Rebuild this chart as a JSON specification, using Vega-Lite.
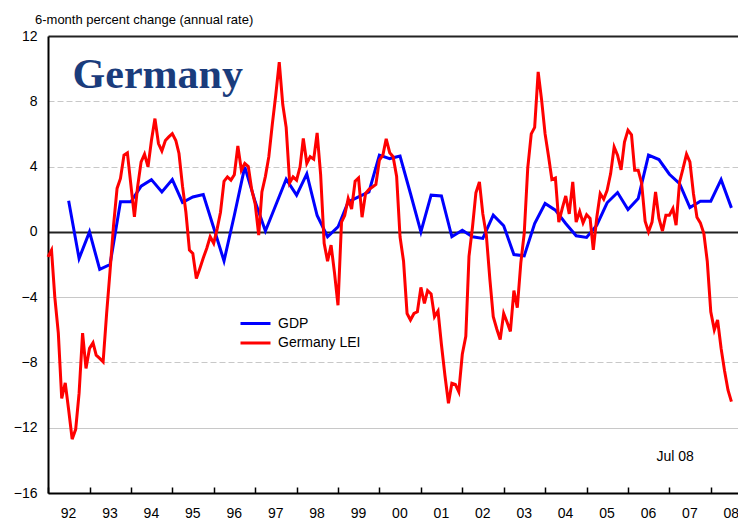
{
  "$schema": "https://vega.github.io/schema/vega-lite/v6.json",
  "width": 690,
  "height": 457,
  "autosize": {"type": "none"},
  "padding": {"left": 48, "top": 36, "right": 0, "bottom": 27},
  "background": "white",
  "config": {"font": "Liberation Sans", "view": {"stroke": null}},
  "title": {
    "text": "6-month percent change (annual rate)",
    "anchor": "start",
    "frame": "group",
    "font": "Liberation Sans",
    "fontSize": 13,
    "fontWeight": "normal",
    "color": "#000000",
    "baseline": "alphabetic",
    "dx": -13,
    "dy": 14,
    "offset": 6
  },
  "datasets": {
    "lei": [
      {"d":"1992-01-01","v":-1.53},{"d":"1992-02-01","v":-1.12},{"d":"1992-03-01","v":-4.0},{"d":"1992-04-01","v":-6.2},{"d":"1992-05-01","v":-10.2},{"d":"1992-06-01","v":-9.25},{"d":"1992-07-01","v":-10.9},{"d":"1992-08-01","v":-12.7},{"d":"1992-09-01","v":-12.1},{"d":"1992-10-01","v":-9.9},{"d":"1992-11-01","v":-6.2},{"d":"1992-12-01","v":-8.37},
      {"d":"1993-01-01","v":-7.14},{"d":"1993-02-01","v":-6.8},{"d":"1993-03-01","v":-7.55},{"d":"1993-04-01","v":-7.75},{"d":"1993-05-01","v":-7.96},{"d":"1993-06-01","v":-5.0},{"d":"1993-07-01","v":-2.4},{"d":"1993-08-01","v":0.4},{"d":"1993-09-01","v":2.66},{"d":"1993-10-01","v":3.27},{"d":"1993-11-01","v":4.7},{"d":"1993-12-01","v":4.84},
      {"d":"1994-01-01","v":2.86},{"d":"1994-02-01","v":0.92},{"d":"1994-03-01","v":2.76},{"d":"1994-04-01","v":4.29},{"d":"1994-05-01","v":4.76},{"d":"1994-06-01","v":3.98},{"d":"1994-07-01","v":5.6},{"d":"1994-08-01","v":6.94},{"d":"1994-09-01","v":5.41},{"d":"1994-10-01","v":4.96},{"d":"1994-11-01","v":5.6},{"d":"1994-12-01","v":5.82},
      {"d":"1995-01-01","v":6.02},{"d":"1995-02-01","v":5.6},{"d":"1995-03-01","v":4.8},{"d":"1995-04-01","v":2.8},{"d":"1995-05-01","v":1.2},{"d":"1995-06-01","v":-1.12},{"d":"1995-07-01","v":-1.33},{"d":"1995-08-01","v":-2.86},{"d":"1995-09-01","v":-2.24},{"d":"1995-10-01","v":-1.6},{"d":"1995-11-01","v":-1.0},{"d":"1995-12-01","v":-0.3},
      {"d":"1996-01-01","v":-0.7},{"d":"1996-02-01","v":0.2},{"d":"1996-03-01","v":1.2},{"d":"1996-04-01","v":3.1},{"d":"1996-05-01","v":3.37},{"d":"1996-06-01","v":3.17},{"d":"1996-07-01","v":3.5},{"d":"1996-08-01","v":5.27},{"d":"1996-09-01","v":3.78},{"d":"1996-10-01","v":4.19},{"d":"1996-11-01","v":4.0},{"d":"1996-12-01","v":2.6},
      {"d":"1997-01-01","v":1.7},{"d":"1997-02-01","v":-0.2},{"d":"1997-03-01","v":2.45},{"d":"1997-04-01","v":3.4},{"d":"1997-05-01","v":4.6},{"d":"1997-06-01","v":6.6},{"d":"1997-07-01","v":8.37},{"d":"1997-08-01","v":10.4},{"d":"1997-09-01","v":7.8},{"d":"1997-10-01","v":6.4},{"d":"1997-11-01","v":3.0},{"d":"1997-12-01","v":3.37},
      {"d":"1998-01-01","v":3.17},{"d":"1998-02-01","v":4.0},{"d":"1998-03-01","v":5.72},{"d":"1998-04-01","v":4.2},{"d":"1998-05-01","v":4.6},{"d":"1998-06-01","v":4.45},{"d":"1998-07-01","v":6.06},{"d":"1998-08-01","v":3.5},{"d":"1998-09-01","v":-0.7},{"d":"1998-10-01","v":-1.8},{"d":"1998-11-01","v":-0.81},{"d":"1998-12-01","v":-2.5},
      {"d":"1999-01-01","v":-4.5},{"d":"1999-02-01","v":0.6},{"d":"1999-03-01","v":1.0},{"d":"1999-04-01","v":2.04},{"d":"1999-05-01","v":1.4},{"d":"1999-06-01","v":3.1},{"d":"1999-07-01","v":3.3},{"d":"1999-08-01","v":0.9},{"d":"1999-09-01","v":2.35},{"d":"1999-10-01","v":2.6},{"d":"1999-11-01","v":2.75},{"d":"1999-12-01","v":2.9},
      {"d":"2000-01-01","v":4.4},{"d":"2000-02-01","v":4.7},{"d":"2000-03-01","v":5.7},{"d":"2000-04-01","v":4.85},{"d":"2000-05-01","v":4.6},{"d":"2000-06-01","v":3.4},{"d":"2000-07-01","v":-0.3},{"d":"2000-08-01","v":-1.8},{"d":"2000-09-01","v":-5.0},{"d":"2000-10-01","v":-5.4},{"d":"2000-11-01","v":-5.0},{"d":"2000-12-01","v":-4.9},
      {"d":"2001-01-01","v":-3.4},{"d":"2001-02-01","v":-4.39},{"d":"2001-03-01","v":-3.6},{"d":"2001-04-01","v":-3.8},{"d":"2001-05-01","v":-5.2},{"d":"2001-06-01","v":-4.85},{"d":"2001-07-01","v":-6.9},{"d":"2001-08-01","v":-8.8},{"d":"2001-09-01","v":-10.5},{"d":"2001-10-01","v":-9.28},{"d":"2001-11-01","v":-9.35},{"d":"2001-12-01","v":-9.8},
      {"d":"2002-01-01","v":-7.5},{"d":"2002-02-01","v":-6.4},{"d":"2002-03-01","v":-1.5},{"d":"2002-04-01","v":0.3},{"d":"2002-05-01","v":2.4},{"d":"2002-06-01","v":3.06},{"d":"2002-07-01","v":1.1},{"d":"2002-08-01","v":-0.2},{"d":"2002-09-01","v":-2.9},{"d":"2002-10-01","v":-5.2},{"d":"2002-11-01","v":-5.95},{"d":"2002-12-01","v":-6.6},
      {"d":"2003-01-01","v":-5.0},{"d":"2003-02-01","v":-5.55},{"d":"2003-03-01","v":-6.1},{"d":"2003-04-01","v":-3.6},{"d":"2003-05-01","v":-4.65},{"d":"2003-06-01","v":-1.9},{"d":"2003-07-01","v":-0.1},{"d":"2003-08-01","v":3.9},{"d":"2003-09-01","v":6.0},{"d":"2003-10-01","v":6.4},{"d":"2003-11-01","v":9.8},{"d":"2003-12-01","v":8.1},
      {"d":"2004-01-01","v":6.0},{"d":"2004-02-01","v":4.6},{"d":"2004-03-01","v":3.2},{"d":"2004-04-01","v":3.3},{"d":"2004-05-01","v":0.6},{"d":"2004-06-01","v":1.45},{"d":"2004-07-01","v":2.2},{"d":"2004-08-01","v":1.1},{"d":"2004-09-01","v":3.06},{"d":"2004-10-01","v":0.6},{"d":"2004-11-01","v":1.25},{"d":"2004-12-01","v":0.55},
      {"d":"2005-01-01","v":1.05},{"d":"2005-02-01","v":0.82},{"d":"2005-03-01","v":-1.1},{"d":"2005-04-01","v":0.9},{"d":"2005-05-01","v":2.35},{"d":"2005-06-01","v":2.0},{"d":"2005-07-01","v":2.55},{"d":"2005-08-01","v":3.57},{"d":"2005-09-01","v":5.2},{"d":"2005-10-01","v":4.7},{"d":"2005-11-01","v":3.8},{"d":"2005-12-01","v":5.5},
      {"d":"2006-01-01","v":6.23},{"d":"2006-02-01","v":5.95},{"d":"2006-03-01","v":3.78},{"d":"2006-04-01","v":3.78},{"d":"2006-05-01","v":3.0},{"d":"2006-06-01","v":0.65},{"d":"2006-07-01","v":0.0},{"d":"2006-08-01","v":0.6},{"d":"2006-09-01","v":2.45},{"d":"2006-10-01","v":0.82},{"d":"2006-11-01","v":0.05},{"d":"2006-12-01","v":1.02},
      {"d":"2007-01-01","v":1.02},{"d":"2007-02-01","v":1.43},{"d":"2007-03-01","v":0.41},{"d":"2007-04-01","v":3.06},{"d":"2007-05-01","v":3.88},{"d":"2007-06-01","v":4.76},{"d":"2007-07-01","v":4.29},{"d":"2007-08-01","v":2.35},{"d":"2007-09-01","v":0.9},{"d":"2007-10-01","v":0.55},{"d":"2007-11-01","v":-0.1},{"d":"2007-12-01","v":-1.8},
      {"d":"2008-01-01","v":-4.9},{"d":"2008-02-01","v":-6.0},{"d":"2008-03-01","v":-5.4},{"d":"2008-04-01","v":-7.14},{"d":"2008-05-01","v":-8.5},{"d":"2008-06-01","v":-9.7},{"d":"2008-07-01","v":-10.4}
    ],
    "gdp": [
      {"d":"1992-07-01","v":1.9},{"d":"1992-10-01","v":-1.63},
      {"d":"1993-01-01","v":0.0},{"d":"1993-04-01","v":-2.3},{"d":"1993-07-01","v":-2.0},{"d":"1993-10-01","v":1.84},
      {"d":"1994-01-01","v":1.84},{"d":"1994-04-01","v":2.8},{"d":"1994-07-01","v":3.2},{"d":"1994-10-01","v":2.45},
      {"d":"1995-01-01","v":3.2},{"d":"1995-04-01","v":1.8},{"d":"1995-07-01","v":2.14},{"d":"1995-10-01","v":2.29},
      {"d":"1996-01-01","v":0.25},{"d":"1996-04-01","v":-1.78},{"d":"1996-07-01","v":1.02},{"d":"1996-10-01","v":3.98},
      {"d":"1997-01-01","v":1.84},{"d":"1997-04-01","v":0.05},{"d":"1997-07-01","v":1.63},{"d":"1997-10-01","v":3.23},
      {"d":"1998-01-01","v":2.25},{"d":"1998-04-01","v":3.55},{"d":"1998-07-01","v":1.0},{"d":"1998-10-01","v":-0.3},
      {"d":"1999-01-01","v":0.3},{"d":"1999-04-01","v":1.84},{"d":"1999-07-01","v":2.14},{"d":"1999-10-01","v":2.45},
      {"d":"2000-01-01","v":4.7},{"d":"2000-04-01","v":4.49},{"d":"2000-07-01","v":4.64},{"d":"2000-10-01","v":2.35},
      {"d":"2001-01-01","v":0.0},{"d":"2001-04-01","v":2.25},{"d":"2001-07-01","v":2.2},{"d":"2001-10-01","v":-0.3},
      {"d":"2002-01-01","v":0.1},{"d":"2002-04-01","v":-0.3},{"d":"2002-07-01","v":-0.4},{"d":"2002-10-01","v":1.02},
      {"d":"2003-01-01","v":0.37},{"d":"2003-04-01","v":-1.39},{"d":"2003-07-01","v":-1.47},{"d":"2003-10-01","v":0.51},
      {"d":"2004-01-01","v":1.74},{"d":"2004-04-01","v":1.33},{"d":"2004-07-01","v":0.51},{"d":"2004-10-01","v":-0.24},
      {"d":"2005-01-01","v":-0.34},{"d":"2005-04-01","v":0.41},{"d":"2005-07-01","v":1.78},{"d":"2005-10-01","v":2.41},
      {"d":"2006-01-01","v":1.37},{"d":"2006-04-01","v":2.04},{"d":"2006-07-01","v":4.7},{"d":"2006-10-01","v":4.43},
      {"d":"2007-01-01","v":3.53},{"d":"2007-04-01","v":2.96},{"d":"2007-07-01","v":1.49},{"d":"2007-10-01","v":1.88},
      {"d":"2008-01-01","v":1.88},{"d":"2008-04-01","v":3.2},{"d":"2008-07-01","v":1.47}
    ]
  },
  "encoding": {
    "x": {
      "type": "temporal",
      "scale": {"domain": [{"year": 1992, "month": 1, "date": 1}, {"year": 2008, "month": 8, "date": 28}]},
      "axis": {
        "title": null,
        "format": "%y",
        "tickCount": {"interval": "year", "step": 1},
        "labelOffset": 20,
        "labelFlush": false,
        "labelBound": false,
        "labelOverlap": false,
        "tickSize": -6,
        "tickColor": "#000000",
        "tickWidth": 1.5,
        "domainColor": "#000000",
        "domainWidth": 2,
        "labelFontSize": 14,
        "labelColor": "#000000",
        "labelPadding": 19,
        "grid": false
      }
    },
    "y": {
      "type": "quantitative",
      "scale": {"domain": [-16, 12], "nice": false, "zero": false},
      "axis": {
        "title": null,
        "values": [-16, -12, -8, -4, 0, 4, 8, 12],
        "ticks": false,
        "labelPadding": 11,
        "labelFontSize": 14,
        "labelColor": "#000000",
        "domainColor": "#000000",
        "domainWidth": 2,
        "grid": true,
        "gridColor": {"condition": {"test": "datum.value == 0 || datum.value == 12", "value": "#222222"}, "value": "#c8c8c8"},
        "gridDash": {"condition": {"test": "datum.value == 0 || datum.value == 12 || datum.value == -4 || datum.value == -12", "value": []}, "value": [6, 3]},
        "gridWidth": {"condition": {"test": "datum.value == 0 || datum.value == 12", "value": 2}, "value": 1}
      }
    }
  },
  "layer": [
    {
      "data": {"name": "gdp"},
      "mark": {"type": "line", "strokeWidth": 3},
      "encoding": {
        "x": {"field": "d", "type": "temporal"},
        "y": {"field": "v", "type": "quantitative"},
        "color": {
          "datum": "GDP",
          "scale": {"domain": ["GDP", "Germany LEI"], "range": ["#0000ff", "#ff0000"]},
          "legend": {
            "title": null,
            "orient": "none",
            "legendX": 191,
            "legendY": 278,
            "symbolType": "stroke",
            "symbolSize": 900,
            "symbolStrokeWidth": 3,
            "clipHeight": 19,
            "rowPadding": 0.5,
            "labelOffset": 6,
            "labelFontSize": 14,
            "labelFont": "Liberation Sans",
            "labelColor": "#000000",
            "padding": 0
          }
        }
      }
    },
    {
      "data": {"name": "lei"},
      "mark": {"type": "line", "strokeWidth": 3},
      "encoding": {
        "x": {"field": "d", "type": "temporal"},
        "y": {"field": "v", "type": "quantitative"},
        "color": {"datum": "Germany LEI"}
      }
    },
    {
      "data": {"values": [{}]},
      "mark": {"type": "text", "text": "Germany", "font": "Liberation Serif", "fontWeight": "bold", "fontSize": 42, "color": "#1a3c7c", "align": "left", "baseline": "alphabetic"},
      "encoding": {
        "x": {"datum": {"year": 1992, "month": 8, "date": 5}, "type": "temporal"},
        "y": {"datum": 8.84, "type": "quantitative"}
      }
    },
    {
      "data": {"values": [{}]},
      "mark": {"type": "text", "text": "Jul 08", "font": "Liberation Sans", "fontSize": 14, "color": "#000000", "align": "left", "baseline": "middle"},
      "encoding": {
        "x": {"datum": {"year": 2006, "month": 9, "date": 9}, "type": "temporal"},
        "y": {"datum": -13.81, "type": "quantitative"}
      }
    }
  ]
}
